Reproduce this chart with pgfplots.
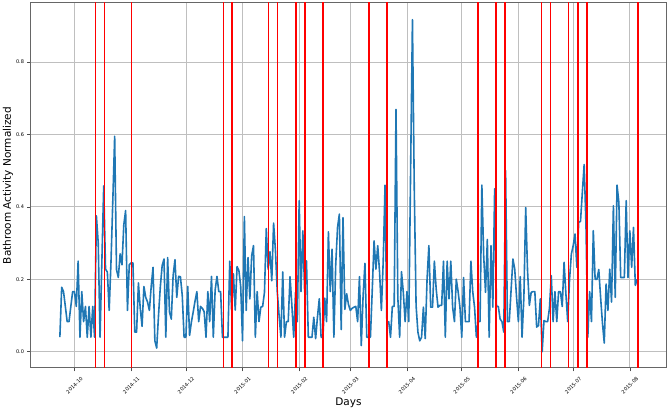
\documentclass[border=0pt]{standalone}
\usepackage{fontspec}
\setmainfont{DejaVu Sans}
\usepackage{pgfplots}
\pgfplotsset{compat=1.18}
\definecolor{mplblue}{RGB}{31,119,180}
\begin{document}
\begin{tikzpicture}
\begin{axis}[
 name=ax,
 scale only axis, width=635pt, height=365pt,
 xmin=-23.8, xmax=323.8, ymin=-0.045, ymax=0.963,
 axis line style={black!60, line width=1pt},
 grid=major, major grid style={black!25, line width=0.8pt},
 tick align=outside, tick pos=left, major tick length=3.5pt, tick style={black!70, line width=0.6pt},
 xtick={0,31,61,92,123,151,182,212,243,273,304},
 xticklabels={2014-10,2014-11,2014-12,2015-01,2015-02,2015-03,2015-04,2015-05,2015-06,2015-07,2015-08},
 xticklabel style={font=\fontsize{5}{6}\selectfont, anchor=center, yshift=-14pt, rotate=45},
 ytick={0,0.2,0.4,0.6,0.8},
 yticklabel style={font=\fontsize{5}{6}\selectfont},
 /pgf/number format/.cd, fixed, fixed zerofill, precision=1, assume math mode=true,
 /pgfplots/.cd,
 every axis x label/.style={at={(axis description cs:0.5,0)}, anchor=center, yshift=-35pt, font=\fontsize{10.5}{12}\selectfont},
 every axis y label/.style={at={([xshift=-23pt]axis description cs:0,0.5)}, anchor=center, rotate=90, font=\fontsize{10.5}{12}\selectfont},
 xlabel={Days}, ylabel={Bathroom Activity Normalized},
 clip=true,
]
\addplot[mplblue, line width=1.6pt, line join=round] table[x=d, y=v] {
d v
-8 0.04
-7 0.178
-6 0.166
-5 0.125
-4 0.083
-3 0.083
-2 0.125
-1 0.166
0 0.166
1 0.125
2 0.25
3 0.04
4 0.166
5 0.083
6 0.125
7 0.04
8 0.125
9 0.04
10 0.125
11 0.04
12 0.375
13 0.3
14 0.04
15 0.25
16 0.458
17 0.228
18 0.22
19 0.114
20 0.25
21 0.42
22 0.595
23 0.227
24 0.205
25 0.27
26 0.24
27 0.35
28 0.39
29 0.114
30 0.24
31 0.245
32 0.245
33 0.054
34 0.054
35 0.19
36 0.12
37 0.07
38 0.18
39 0.15
40 0.137
41 0.114
42 0.18
43 0.233
44 0.03
45 0.01
46 0.1
47 0.18
48 0.238
49 0.256
50 0.04
51 0.26
52 0.11
53 0.09
54 0.21
55 0.254
56 0.15
57 0.208
58 0.207
59 0.155
60 0.04
61 0.04
62 0.18
63 0.045
64 0.082
65 0.11
66 0.14
67 0.166
68 0.083
69 0.125
70 0.12
71 0.11
72 0.04
73 0.166
74 0.083
75 0.208
76 0.04
77 0.17
78 0.208
79 0.166
80 0.166
81 0.04
82 0.04
83 0.04
84 0.04
85 0.25
86 0.115
87 0.215
88 0.115
89 0.235
90 0.224
91 0.18
92 0.03
93 0.373
94 0.114
95 0.26
96 0.146
97 0.265
98 0.293
99 0.04
100 0.166
101 0.083
102 0.123
103 0.125
104 0.164
105 0.34
106 0.228
107 0.276
108 0.196
109 0.355
110 0.28
111 0.166
112 0.1
113 0.04
114 0.22
115 0.04
116 0.083
117 0.083
118 0.207
119 0.128
120 0.04
121 0.164
122 0.083
123 0.417
124 0.166
125 0.334
126 0.164
127 0.251
128 0.04
129 0.04
130 0.04
131 0.095
132 0.036
133 0.095
134 0.146
135 0.04
136 0.04
137 0.148
138 0.083
139 0.331
140 0.166
141 0.283
142 0.04
143 0.24
144 0.343
145 0.38
146 0.061
147 0.37
148 0.117
149 0.16
150 0.13
151 0.114
152 0.12
153 0.123
154 0.125
155 0.083
156 0.207
157 0.017
158 0.155
159 0.244
160 0.04
161 0.04
162 0.04
163 0.17
164 0.306
165 0.228
166 0.293
167 0.22
168 0.114
169 0.25
170 0.46
171 0.077
172 0.083
173 0.04
174 0.125
175 0.125
176 0.669
177 0.15
178 0.04
179 0.221
180 0.164
181 0.083
182 0.166
183 0.083
184 0.5
185 0.917
186 0.45
187 0.127
188 0.054
189 0.03
190 0.04
191 0.123
192 0.036
193 0.2
194 0.293
195 0.123
196 0.123
197 0.25
198 0.173
199 0.123
200 0.128
201 0.128
202 0.25
203 0.04
204 0.25
205 0.146
206 0.25
207 0.123
208 0.083
209 0.2
210 0.166
211 0.123
212 0.04
213 0.205
214 0.083
215 0.083
216 0.083
217 0.25
218 0.166
219 0.123
220 0.04
221 0.083
222 0.083
223 0.46
224 0.265
225 0.164
226 0.31
227 0.04
228 0.293
229 0.123
230 0.45
231 0.125
232 0.125
233 0.09
234 0.083
235 0.054
236 0.5
237 0.083
238 0.083
239 0.17
240 0.256
241 0.228
242 0.15
243 0.083
244 0.207
245 0.04
246 0.15
247 0.398
248 0.224
249 0.128
250 0.164
251 0.166
252 0.166
253 0.068
254 0.072
255 0.146
256 0.0
257 0.086
258 0.083
259 0.083
260 0.12
261 0.21
262 0.083
263 0.166
264 0.083
265 0.166
266 0.166
267 0.125
268 0.247
269 0.16
270 0.083
271 0.2
272 0.27
273 0.293
274 0.325
275 0.233
276 0.357
277 0.36
278 0.44
279 0.517
280 0.348
281 0.04
282 0.166
283 0.083
284 0.334
285 0.2
286 0.2
287 0.227
288 0.15
289 0.08
290 0.024
291 0.187
292 0.114
293 0.228
294 0.137
295 0.403
296 0.15
297 0.46
298 0.412
299 0.205
300 0.205
301 0.205
302 0.417
303 0.205
304 0.334
305 0.233
306 0.343
307 0.183
308 0.2
};
\pgfplotsinvokeforeach{11.5,16.4,31.2,81.5,86.4,106.2,111.2,121.2,126.2,136.0,161.2,171.0,221.0,230.8,235.8,255.6,260.6,270.5,275.6,280.6,308.4}{
 \addplot[red, line width=1.7pt, forget plot] coordinates {(#1,-0.2) (#1,1.2)};
}
\end{axis}
\pgfresetboundingbox
\path[use as bounding box] ([xshift=-31pt,yshift=-43pt]ax.south west) rectangle ([xshift=3pt,yshift=3pt]ax.north east);
\end{tikzpicture}
\end{document}
